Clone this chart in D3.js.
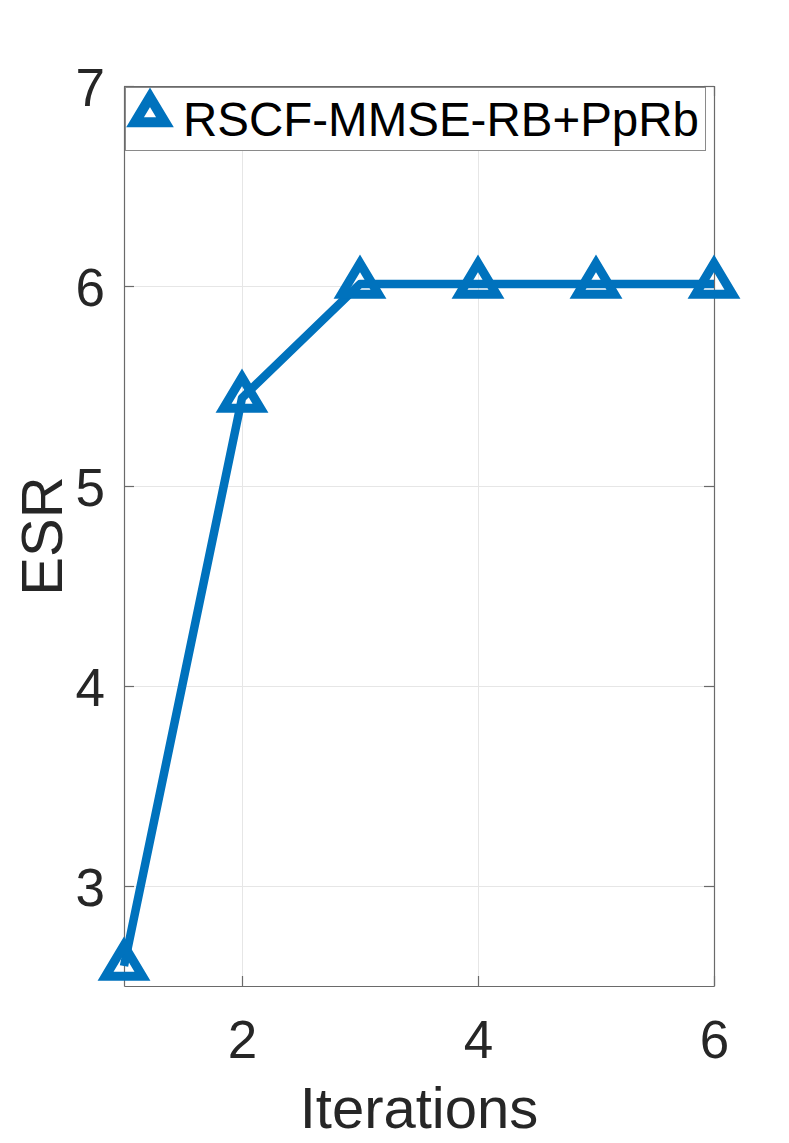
<!DOCTYPE html>
<html>
<head>
<meta charset="utf-8">
<script src="https://cdn.jsdelivr.net/npm/d3@7"></script>
<style>
  html, body { margin: 0; padding: 0; background: #fff; }
  svg { display: block; font-family: "Liberation Sans", Arial, sans-serif; }
</style>
</head>
<body>
<div id="chart"></div>
<script>
// data
const iterations = [1, 2, 3, 4, 5, 6];
const esr = [2.6, 5.44, 6.01, 6.01, 6.01, 6.01];
const seriesName = "RSCF-MMSE-RB+PpRb";
const xTicks = [2, 4, 6];
const yTicks = [3, 4, 5, 6, 7];
const xLabel = "Iterations";
const yLabel = "ESR";

const W = 789, H = 1143;
const margin = { top: 86, right: 75, bottom: 157, left: 124 };
const blue = "#0072BD";
const ink = "#262626";
const fmt = d3.format("d");

const svg = d3.select("#chart").append("svg")
    .attr("width", W)
    .attr("height", H);

const x = d3.scaleLinear([1, 6], [margin.left, W - margin.right]);
const y = d3.scaleLinear([2.5, 7], [H - margin.bottom, margin.top]);

const x0 = x.range()[0], x1 = x.range()[1];
const y0 = y.range()[0], y1 = y.range()[1];

// grid
const grid = svg.append("g").attr("stroke", "#e6e6e6").attr("stroke-width", 1);
grid.selectAll(".gx").data(xTicks).join("line")
    .attr("x1", d => Math.round(x(d)) + 0.5).attr("x2", d => Math.round(x(d)) + 0.5)
    .attr("y1", y1).attr("y2", y0);
grid.selectAll(".gy").data(yTicks.filter(d => d < 7)).join("line")
    .attr("y1", d => Math.round(y(d)) + 0.5).attr("y2", d => Math.round(y(d)) + 0.5)
    .attr("x1", x0).attr("x2", x1);

// axes: ticks inward on all four sides, like a boxed matlab axes
const tick = 10;
const axB = svg.append("g").attr("transform", `translate(0,${y0})`)
    .call(d3.axisBottom(x).tickValues(xTicks).tickFormat(fmt).tickSizeInner(-tick).tickSizeOuter(0).tickPadding(34));
const axT = svg.append("g").attr("transform", `translate(0,${y1})`)
    .call(d3.axisTop(x).tickValues(xTicks).tickSizeInner(-tick).tickSizeOuter(0).tickFormat(""));
const axL = svg.append("g").attr("transform", `translate(${x0},0)`)
    .call(d3.axisLeft(y).tickValues(yTicks).tickFormat(fmt).tickSizeInner(-tick).tickSizeOuter(0).tickPadding(19));
const axR = svg.append("g").attr("transform", `translate(${x1},0)`)
    .call(d3.axisRight(y).tickValues(yTicks).tickSizeInner(-tick).tickSizeOuter(0).tickFormat(""));

[axB, axT, axL, axR].forEach(a => {
    a.select(".domain").attr("stroke", "#6a6a6a").attr("stroke-width", 1.2);
    a.selectAll(".tick line").attr("stroke", "#6a6a6a").attr("stroke-width", 1.2);
    a.selectAll(".tick text")
        .attr("fill", ink)
        .style("font-size", "53px")
        .style("font-family", "'Liberation Sans', Arial, sans-serif");
});
axL.selectAll(".tick text").attr("dy", "0.36em");
axB.selectAll(".tick text").attr("dy", "0.71em");

// axis labels
svg.append("text")
    .attr("x", (x0 + x1) / 2)
    .attr("y", 1128)
    .attr("text-anchor", "middle")
    .attr("fill", ink)
    .style("font-size", "58px")
    .text(xLabel);

svg.append("text")
    .attr("transform", `translate(62,${(y0 + y1) / 2}) rotate(-90)`)
    .attr("text-anchor", "middle")
    .attr("fill", ink)
    .style("font-size", "58px")
    .text(yLabel);

// triangle marker, centred on its centroid
const tri = (hw, h) => `M0,${-2 * h / 3}L${hw},${h / 3}L${-hw},${h / 3}Z`;

const line = d3.line().x(d => x(d[0])).y(d => y(d[1]));
const pts = iterations.map((it, i) => [it, esr[i]]);

svg.append("path")
    .datum(pts)
    .attr("d", line)
    .attr("fill", "none")
    .attr("stroke", blue)
    .attr("stroke-width", 8.5)
    .attr("stroke-linejoin", "round");

svg.append("g").selectAll("path").data(pts).join("path")
    .attr("transform", d => `translate(${x(d[0])},${y(d[1])})`)
    .attr("d", tri(18.5, 31))
    .attr("fill", "none")
    .attr("stroke", blue)
    .attr("stroke-width", 9)
    .attr("stroke-linejoin", "miter");

// legend
const leg = svg.append("g");
leg.append("rect")
    .attr("x", 125.5).attr("y", 87.5)
    .attr("width", 580).attr("height", 63)
    .attr("fill", "#fff")
    .attr("stroke", "#8a8a8a")
    .attr("stroke-width", 1);
leg.append("path")
    .attr("transform", "translate(150,114)")
    .attr("d", tri(15, 25))
    .attr("fill", "none")
    .attr("stroke", blue)
    .attr("stroke-width", 10)
    .attr("stroke-linejoin", "miter");
leg.append("text")
    .attr("x", 183)
    .attr("y", 119)
    .attr("dy", "0.36em")
    .attr("fill", "#000")
    .style("font-size", "47.5px")
    .text(seriesName);
</script>
</body>
</html>
